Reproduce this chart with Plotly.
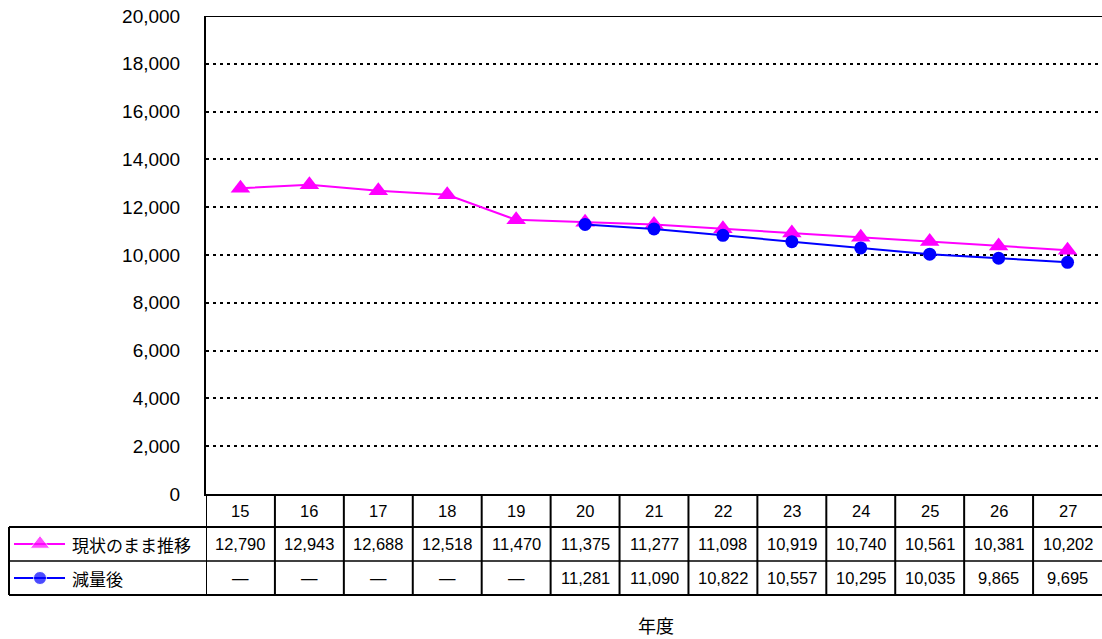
import plotly.graph_objects as go

# Fiscal years (category labels) and the two projected series
years = ["15", "16", "17", "18", "19", "20", "21", "22", "23", "24", "25", "26", "27"]
current_trend = [12790, 12943, 12688, 12518, 11470, 11375, 11277, 11098, 10919, 10740, 10561, 10381, 10202]
after_reduction = [None, None, None, None, None, 11281, 11090, 10822, 10557, 10295, 10035, 9865, 9695]

series_names = ["現状のまま推移", "減量後"]
series_colors = ["#FF00FF", "#0000FF"]
series_symbols = ["triangle-up", "circle"]
marker_sizes = [17, 13]
y_ticks = [0, 2000, 4000, 6000, 8000, 10000, 12000, 14000, 16000, 18000, 20000]

W, H = 1102, 639
JP_FONT = "Noto Sans CJK JP"
NUM_FONT = "Liberation Sans, Noto Sans CJK JP"


def py(pixel_y):
    """Convert a pixel row into paper coordinates."""
    return 1 - pixel_y / H


def px(pixel_x):
    return pixel_x / W


plot_left, plot_top, plot_bottom = 206, 16, 494
row_edges = [494, 527, 561, 595]
table_left = 9

idx = list(range(len(years)))

fig = go.Figure()

for k, values in enumerate([current_trend, after_reduction]):
    fig.add_trace(go.Scatter(
        x=idx, y=values, mode="lines+markers", name=series_names[k],
        line=dict(color=series_colors[k], width=2),
        marker=dict(symbol=series_symbols[k], size=marker_sizes[k], color=series_colors[k]),
        showlegend=False, cliponaxis=False, connectgaps=False,
    ))

# Legend keys drawn inside the data table (separate axes in pixel units)
key_rows = [(row_edges[1] + row_edges[2]) / 2, (row_edges[2] + row_edges[3]) / 2]
for k in range(2):
    fig.add_trace(go.Scatter(
        x=[14, 40, 65], y=[key_rows[k]] * 3, mode="lines+markers",
        xaxis="x2", yaxis="y2", showlegend=False, hoverinfo="skip", cliponaxis=False,
        line=dict(color=series_colors[k], width=2),
        marker=dict(symbol=series_symbols[k], size=[0, marker_sizes[k], 0],
                    color=series_colors[k]),
    ))

shapes = []
annotations = []

# Solid top border of the plot area
shapes.append(dict(type="line", xref="paper", yref="y", x0=px(plot_left), x1=1,
                   y0=20000, y1=20000, line=dict(color="black", width=2)))

# Table grid: horizontal rules
for j, wdt in zip([1, 2, 3], [2, 1.5, 2]):
    shapes.append(dict(type="line", xref="paper", yref="paper", x0=px(table_left), x1=1,
                       y0=py(row_edges[j]), y1=py(row_edges[j]),
                       line=dict(color="black", width=wdt)))
# Left edge of the label column
shapes.append(dict(type="line", xref="paper", yref="paper", x0=px(table_left), x1=px(table_left),
                   y0=py(row_edges[1]), y1=py(row_edges[3]), line=dict(color="black", width=2)))
# Vertical rules between year columns
for i in idx:
    shapes.append(dict(type="line", xref="x", yref="paper", x0=i - 0.5, x1=i - 0.5,
                       y0=py(row_edges[0]), y1=py(row_edges[3]), line=dict(color="black", width=2)))


def fmt(v):
    return "—" if v is None else f"{v:,}"


def label(x, y, text, size, family, xref="x", xanchor="center"):
    return dict(x=x, y=y, xref=xref, yref="paper", text=text, showarrow=False,
                xanchor=xanchor, yanchor="middle",
                font=dict(size=size, color="black", family=family))


row_centers = [(row_edges[j] + row_edges[j + 1]) / 2 for j in range(3)]
for i, yr in enumerate(years):
    annotations.append(label(i, py(row_centers[0]), yr, 16.5, NUM_FONT))
    annotations.append(label(i, py(row_centers[1]), fmt(current_trend[i]), 16.5, NUM_FONT))
    annotations.append(label(i, py(row_centers[2]), fmt(after_reduction[i]), 16.5, NUM_FONT))

for k in range(2):
    annotations.append(label(px(70), py(row_centers[k + 1]), series_names[k], 17, JP_FONT,
                             xref="paper", xanchor="left"))

# Axis title
annotations.append(label(px(656), py(625), "年度", 18, JP_FONT, xref="paper"))

fig.update_layout(
    width=W, height=H,
    margin=dict(l=0, r=0, t=0, b=0, autoexpand=False),
    paper_bgcolor="white", plot_bgcolor="rgba(0,0,0,0)",
    font=dict(family=JP_FONT, color="black"),
    xaxis=dict(domain=[px(plot_left), 1], range=[-0.5, len(years) - 0.5], automargin=False,
               showticklabels=False, showgrid=False, zeroline=False,
               showline=True, linecolor="black", linewidth=2, ticks=""),
    yaxis=dict(domain=[py(plot_bottom), py(plot_top)], range=[0, 20000], automargin=False,
               tickvals=y_ticks, tickformat=",",
               tickfont=dict(size=19, color="black", family=NUM_FONT),
               showgrid=True, gridcolor="black", gridwidth=2, griddash="3px,4px",
               zeroline=False, showline=True, linecolor="black", linewidth=2,
               ticks="", ticklabelstandoff=20),
    xaxis2=dict(domain=[0, 1], range=[0, W], visible=False, anchor="y2", automargin=False),
    yaxis2=dict(domain=[0, 1], range=[H, 0], visible=False, anchor="x2", automargin=False),
    shapes=shapes,
    annotations=annotations,
)

fig.write_html("out.html")
